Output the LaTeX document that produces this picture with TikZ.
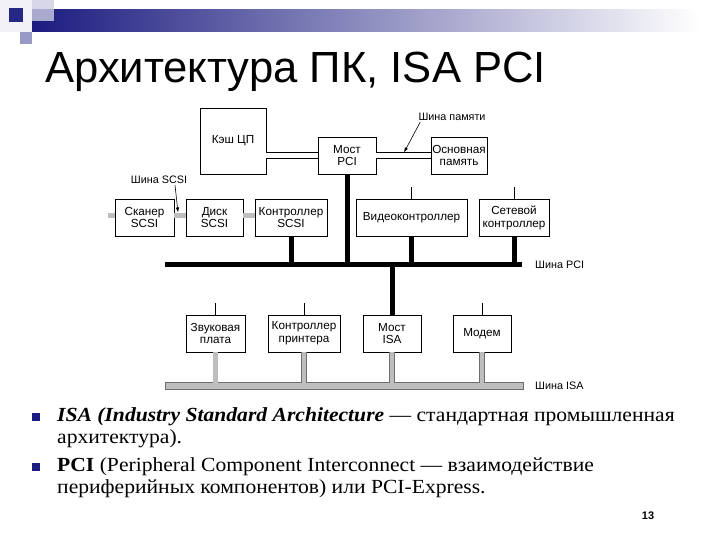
\documentclass[tikz,border=0pt]{standalone}
\usepackage{fontspec}
\setmainfont{Liberation Serif}
\newfontfamily\bodyfont[FakeStretch=1.08]{Liberation Serif}
\newfontfamily\arial{Liberation Sans}
\usetikzlibrary{arrows.meta}
\definecolor{navy}{RGB}{28,28,128}
\definecolor{hatchfill}{RGB}{190,190,190}
\definecolor{hatchline}{RGB}{110,110,110}
\begin{document}
\begin{tikzpicture}[x=1pt,y=-1pt,
  box/.style={draw, line width=0.9pt, fill=white, align=center, inner sep=0pt,
    font=\arial\fontsize{11.7}{12.8}\selectfont, minimum height=37},
  pcibus/.style={line width=5pt, line cap=butt},
  hatchbus/.style={draw=hatchline, line width=0.6pt, fill=hatchfill},
  hatchlink/.style={draw=hatchline, line width=0.6pt, double=hatchfill, double distance=4.5pt},
  membus/.style={draw=black, line width=0.7pt, double=white, double distance=5pt},
  lbl/.style={font=\arial\fontsize{10.8}{12}\selectfont, inner sep=0pt},
  pointer/.style={line width=0.6pt, -{Latex[length=5pt,width=3.5pt]}},
  stub/.style={line width=0.6pt},
  bullettext/.style={anchor=base west, inner sep=0pt, font=\bodyfont\fontsize{20}{22}\selectfont}
]
\useasboundingbox (0,0) rectangle (720,540);

% --- slide decoration
\fill[navy!6] (0,0) rectangle (32,32);
\shade[left color=navy, right color=white] (32,10) rectangle (700,32);
\fill[navy!22, opacity=0.8] (32,0) rectangle (54,21);
\fill[navy!95] (9,8) rectangle (23,22);
\fill[navy!45] (20,32) rectangle (32,44);

% --- title
\node[anchor=base west, inner sep=0pt, font=\arial\fontsize{43.6}{48}\selectfont] (title) at (45,83) {Архитектура ПК, ISA PCI};

% --- boxes
\node[box, minimum width=66, minimum height=66] (cache) at (233,141) {Кэш ЦП};
\node[box, minimum width=58] (mostpci) at (347,155.5) {Мост\\PCI};
\node[box, minimum width=56] (mem) at (459,155.5) {Основная\\память};
\node[box, minimum width=59] (scan) at (144.5,217.5) {Сканер\\SCSI};
\node[box, minimum width=57] (disk) at (214.5,217.5) {Диск\\SCSI};
\node[box, minimum width=72] (ctrlscsi) at (291,217.5) {Контроллер\\SCSI};
\node[box, minimum width=111] (video) at (411.5,217.5) {Видеоконтроллер};
\node[box, minimum width=70] (net) at (514,217.5) {Сетевой\\контроллер};
\node[box, minimum width=59] (sound) at (215.5,333.5) {Звуковая\\плата};
\node[box, minimum width=72] (printer) at (304,333.5) {Контроллер\\принтера};
\node[box, minimum width=58] (mostisa) at (392,333.5) {Мост\\ISA};
\node[box, minimum width=58] (modem) at (482,333.5) {Модем};

% --- memory bus (double lines)
\draw[membus] (mostpci.west) -- (mostpci.west -| cache.east);
\draw[membus] (mostpci.east) -- (mostpci.east -| mem.west);

% --- SCSI bus segments
\coordinate (scsiL) at (108,215.5);
\draw[hatchlink] (scsiL) -- (scsiL -| scan.west);
\draw[hatchlink] (scan.east |- scsiL) -- (disk.west |- scsiL);
\draw[hatchlink] (disk.east |- scsiL) -- (ctrlscsi.west |- scsiL);

% --- PCI bus
\coordinate (pciL) at (165,264.5);
\coordinate (pciR) at (522,264.5);
\draw[pcibus] (pciL) -- (pciR);
\draw[pcibus] (ctrlscsi.south) -- (ctrlscsi.south |- pciL);
\draw[pcibus] (mostpci.south) -- (mostpci.south |- pciL);
\draw[pcibus] (video.south) -- (video.south |- pciL);
\draw[pcibus] (net.south) -- (net.south |- pciL);
\draw[pcibus] (mostisa.north) -- (mostisa.north |- pciL);

% --- stubs
\draw[stub] (video.north) -- ++(0,-12);
\draw[stub] (net.north) -- ++(0,-12);
\draw[stub] (sound.north) -- ++(0,-12);
\draw[stub] (printer.north) -- ++(0,-12);
\draw[stub] (modem.north) -- ++(0,-12);

% --- ISA bus
\coordinate (isaT) at (165,382);
\path[hatchbus] (isaT) rectangle (523,389);
\draw[hatchlink] (sound.south) -- ([yshift=-0.8pt]sound.south |- isaT);
\draw[hatchlink] (printer.south) -- ([yshift=-0.8pt]printer.south |- isaT);
\draw[hatchlink] (mostisa.south) -- ([yshift=-0.8pt]mostisa.south |- isaT);
\draw[hatchlink] (modem.south) -- ([yshift=-0.8pt]modem.south |- isaT);

% --- labels
\node[lbl] (lmem) at (452,117) {Шина памяти};
\coordinate (lmemtip) at (404,152.5);
\draw[pointer] (lmem.south west) ++(2,1) -- (lmemtip);
\node[lbl] (lscsi) at (159,180) {Шина SCSI};
\coordinate (lscsitip) at (178,212.5);
\draw[pointer] (lscsi.south -| lscsitip) ++(-3,1) -- (lscsitip);
\node[lbl, anchor=west] (lpci) at (535,265) {Шина PCI};
\node[lbl, anchor=west] (lisa) at (535,385.5) {Шина ISA};

% --- bullets
\fill[navy] (32,413) rectangle (40,421);
\fill[navy] (32,463) rectangle (40,471);
\node[bullettext] (b1) at (57,421) {\textbf{\textit{ISA (Industry Standard Architecture}} — стандартная промышленная};
\node[bullettext] (b2) at (57,443) {архитектура).};
\node[bullettext] (b3) at (57,471) {\textbf{PCI} (Peripheral Component Interconnect — взаимодействие};
\node[bullettext] (b4) at (57,493) {периферийных компонентов) или PCI-Express.};

% --- page number
\node[font=\arial\bfseries\fontsize{11}{12}\selectfont, inner sep=0pt] (pnum) at (648,516) {13};
\end{tikzpicture}
\end{document}
